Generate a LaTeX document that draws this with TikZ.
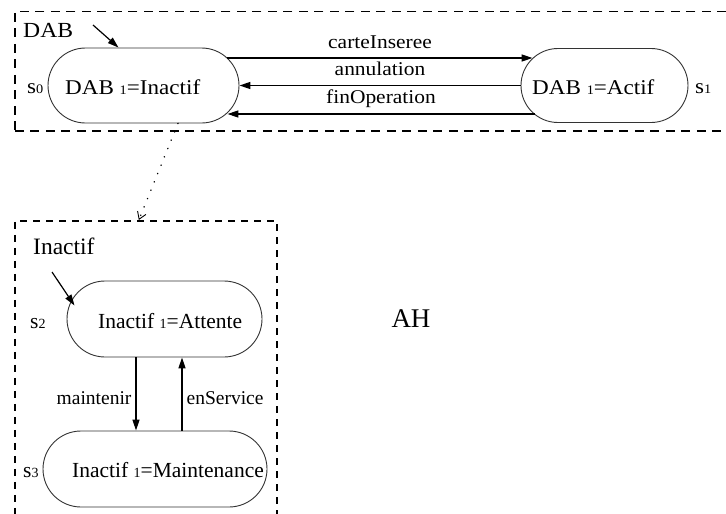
\documentclass[tikz,border=0pt]{standalone}
\usepackage{fontspec}
\setmainfont{Liberation Serif}
\newfontfamily\upfont[FakeStretch=1.1]{Liberation Serif}
\usetikzlibrary{arrows.meta,shapes.misc}
% small digit set on the baseline, as in "DAB 1=Inactif"
\newcommand\smalldigit[2]{{\fontsize{#1}{#1}\selectfont #2}}

\begin{document}
\begin{tikzpicture}[x=1pt,y=-1pt,
  state/.style={rounded rectangle, draw=black!80, line width=0.9pt, inner sep=0pt},
  upbox/.style={draw=black, line width=1.9pt, dash pattern=on 9pt off 6.5pt, inner sep=0pt, anchor=north west},
  lowbox/.style={draw=black, line width=1.6pt, dash pattern=on 7pt off 6pt, inner sep=0pt, anchor=north west},
  uptext/.style={font=\upfont\fontsize{21}{21}\selectfont, inner sep=0pt, anchor=base west},
  uplabel/.style={font=\upfont\fontsize{19.5}{19.5}\selectfont, inner sep=0pt, anchor=base},
  lowtext/.style={font=\fontsize{21.5}{21.5}\selectfont, inner sep=0pt, anchor=base west},
  lowlabel/.style={font=\fontsize{19.5}{19.5}\selectfont, inner sep=0pt, anchor=base},
  trans/.style={line width=1.2pt, -{Triangle[length=11pt,width=7pt]}},
]
\useasboundingbox (0,0) rectangle (726,514);

% composite states (dashed frames)
\begin{scope}
  \clip (0,0) rectangle (726,514);
  \node[upbox, minimum width=730pt, minimum height=119.5pt] (dab) at (14,10.5) {};
  \node[lowbox, minimum width=262pt, minimum height=320pt] (inactif) at (14,220) {};
\end{scope}

% titles
\node[font=\upfont\fontsize{21.5}{21.5}\selectfont, inner sep=0pt, anchor=base west] (dabtitle) at (23,37) {DAB};
\node[font=\fontsize{23.5}{23.5}\selectfont, inner sep=0pt, anchor=base west] (inactiftitle) at (33,254) {Inactif};
\node[font=\fontsize{27}{27}\selectfont, inner sep=0pt, anchor=base] (ah) at (411,327) {AH};

% states of DAB
\node[state, minimum width=191pt, minimum height=75pt] (s0) at (143.5,85.5) {};
\node[state, minimum width=167pt, minimum height=74pt] (s1) at (604.5,85.5) {};
\node[uptext] (s0text) at (65,94) {DAB \smalldigit{13}{1}=Inactif};
\node[uptext] (s1text) at (532,94) {DAB \smalldigit{13}{1}=Actif};
\node[uptext] (s0name) at (27,93) {s\smalldigit{13}{0}};
\node[uptext] (s1name) at (695,93) {s\smalldigit{13}{1}};

% states of Inactif
\node[state, minimum width=195pt, minimum height=76pt] (s2) at (164.5,319) {};
\node[state, minimum width=224pt, minimum height=76pt] (s3) at (155,469) {};
\node[lowtext] (s2text) at (98,328) {Inactif \smalldigit{14}{1}=Attente};
\node[lowtext] (s3text) at (72,477) {Inactif \smalldigit{14}{1}=Maintenance};
\node[lowtext] (s2name) at (30,328) {s\smalldigit{14}{2}};
\node[lowtext] (s3name) at (23,477) {s\smalldigit{14}{3}};

% initial pseudo-states
\coordinate (init0) at (93,25);
\coordinate (init2) at (52,272);
\draw[trans] (init0) -- ([xshift=-25pt]s0.north);
\draw[trans] (init2) -- ([xshift=-90pt,yshift=-25pt]s2.north);

% transitions of DAB (labels sit on their baseline above the line)
\draw[trans] ([xshift=-12pt,yshift=27.5pt]s0.east) -- node[uplabel, yshift=10pt] (lcarte) {carteInseree} ([xshift=12pt,yshift=27.5pt]s1.west);
\draw[trans] (s1.west) -- node[uplabel, yshift=10.5pt] (lannul) {annulation} (s0.east);
\draw[trans] ([xshift=14pt,yshift=-28.5pt]s1.west) -- node[uplabel, yshift=11pt] (lfin) {finOperation} ([xshift=-12pt,yshift=-28.5pt]s0.east);

% refinement of Inactif
\draw[line width=1.6pt, line cap=round, dash pattern=on 0.1pt off 8.9pt, -{Straight Barb[length=7pt,width=9pt,line width=0.9pt]}]
  ([xshift=34.5pt]s0.south) -- ([xshift=-7pt]inactif.north);

% transitions of Inactif
\draw[trans] ([xshift=-28.5pt]s2.south) -- node[lowlabel, left=4pt, pos=0.55] (lmaint) {maintenir} ([xshift=-28.5pt]s2.south |- s3.north);
\draw[trans] ([xshift=17.5pt]s2.south |- s3.north) -- node[lowlabel, right=4pt, pos=0.45] (lserv) {enService} ([xshift=17.5pt]s2.south);
\end{tikzpicture}
\end{document}
